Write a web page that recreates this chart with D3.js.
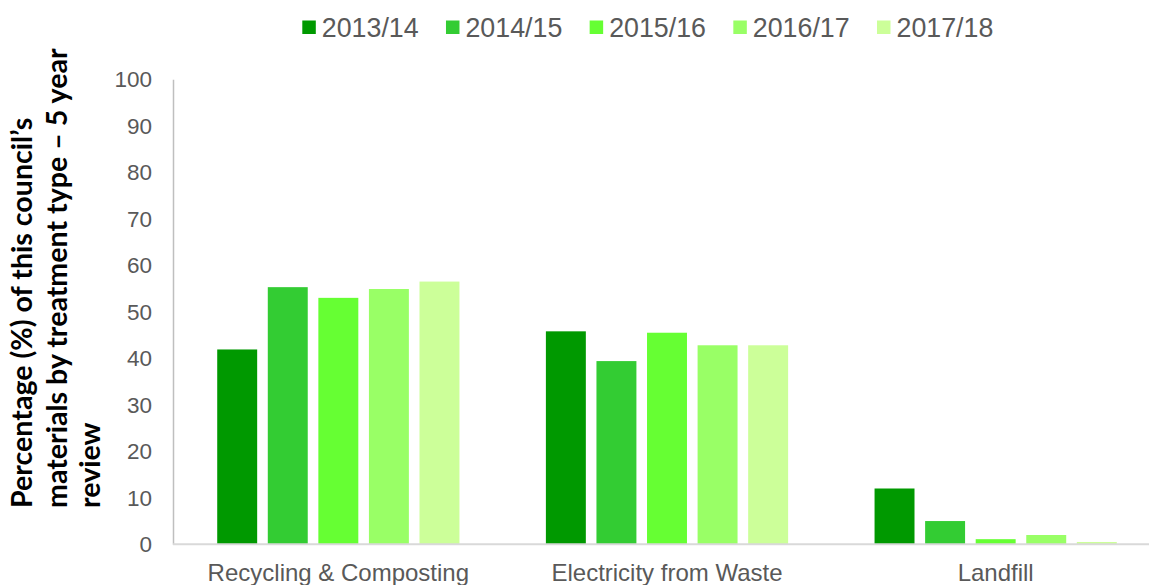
<!DOCTYPE html>
<html>
<head>
<meta charset="utf-8">
<script src="https://cdn.jsdelivr.net/npm/d3@7"></script>
<style>
  html, body { margin: 0; padding: 0; background: #ffffff; }
  svg { display: block; }
</style>
</head>
<body>
<svg id="chart" width="1149" height="585"></svg>
<script>
// ---- data ----
const categories = ["Recycling & Composting", "Electricity from Waste", "Landfill"];
const years = ["2013/14", "2014/15", "2015/16", "2016/17", "2017/18"];
const values_2013_14 = [41.9, 45.8, 12.0];
const values_2014_15 = [55.3, 39.4, 5.0];
const values_2015_16 = [53.0, 45.5, 1.1];
const values_2016_17 = [54.9, 42.8, 2.0];
const values_2017_18 = [56.5, 42.8, 0.5];
const yTicks = [0, 10, 20, 30, 40, 50, 60, 70, 80, 90, 100];
const titleLines = ["Percentage (%) of this council\u2019s", "materials by treatment type \u2013 5 year", "review"];
const colors = ["#009900", "#33cc33", "#66ff33", "#99ff66", "#ccff99"];

const seriesValues = [values_2013_14, values_2014_15, values_2015_16, values_2016_17, values_2017_18];

const svg = d3.select("#chart");

const plot = { left: 174, right: 1160, top: 79.3, bottom: 544.3 };

const x0 = d3.scaleBand().domain(categories).range([plot.left, plot.right])
  .paddingInner(0.263).paddingOuter(0.1315);
const x1 = d3.scaleBand().domain(years).range([0, x0.bandwidth()])
  .paddingInner(0.21).paddingOuter(0);
const y = d3.scaleLinear().domain([0, 100]).range([plot.bottom, plot.top]);

// bars
categories.forEach((cat, ci) => {
  const g = svg.append("g").attr("transform", `translate(${x0(cat)},0)`);
  years.forEach((yr, si) => {
    const v = seriesValues[si][ci];
    g.append("rect")
      .attr("x", x1(yr))
      .attr("y", y(v))
      .attr("width", x1.bandwidth())
      .attr("height", y(0) - y(v))
      .attr("fill", colors[si]);
  });
});

// y axis
const yAxis = d3.axisLeft(y).tickValues(yTicks).tickSize(0).tickPadding(21);
const yg = svg.append("g").attr("transform", `translate(${plot.left - 1},0)`).call(yAxis);
yg.select(".domain").attr("stroke", "#bfbfbf").attr("stroke-width", 1.5);
yg.selectAll("text").attr("fill", "#595959")
  .style("font-family", "'Liberation Sans', Arial, sans-serif").style("font-size", "22.5px");

// x axis
const xAxis = d3.axisBottom(x0).tickSize(0).tickPadding(19.5);
const xg = svg.append("g").attr("transform", `translate(0,${plot.bottom})`).call(xAxis);
xg.select(".domain").attr("stroke", "#d9d9d9").attr("stroke-width", 2)
  .attr("d", `M${plot.left - 1},0H${plot.right}`);
xg.selectAll("text").attr("fill", "#595959")
  .style("font-family", "'Liberation Sans', Arial, sans-serif").style("font-size", "24px");

// legend
const legendX = d3.scalePoint().domain(years).range([302.3, 877]);
const lg = svg.append("g");
years.forEach((yr, i) => {
  const gx = legendX(yr);
  lg.append("rect").attr("x", gx).attr("y", 20.5).attr("width", 13.5).attr("height", 13.5)
    .attr("fill", colors[i]);
  lg.append("text").attr("x", gx + 19.5).attr("y", 36.9)
    .attr("fill", "#595959")
    .style("font-family", "'Liberation Sans', Arial, sans-serif").style("font-size", "26.8px")
    .text(yr);
});

// y title
const titleX = [31.7, 66.5, 100];
titleLines.forEach((t, i) => {
  svg.append("text")
    .attr("transform", `translate(${titleX[i]},508) rotate(-90)`)
    .attr("text-anchor", "start")
    .attr("fill", "#000000")
    .style("font-family", "Lato, 'Open Sans', sans-serif")
    .style("font-weight", "bold")
    .style("font-size", "28.6px")
    .text(t);
});
</script>
</body>
</html>
